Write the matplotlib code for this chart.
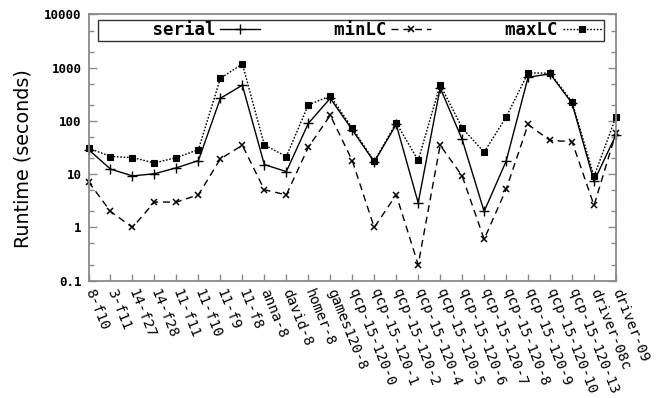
import matplotlib
matplotlib.use('Agg')
import matplotlib.pyplot as plt
from matplotlib.ticker import LogLocator, NullFormatter

# benchmark instances
instances = ['8-f10', '3-f11', '14-f27', '14-f28', '11-f11', '11-f10', '11-f9', '11-f8',
             'anna-8', 'david-8', 'homer-8', 'games120-8',
             'qcp-15-120-0', 'qcp-15-120-1', 'qcp-15-120-2', 'qcp-15-120-4',
             'qcp-15-120-5', 'qcp-15-120-6', 'qcp-15-120-7', 'qcp-15-120-8',
             'qcp-15-120-9', 'qcp-15-120-10', 'qcp-15-120-13', 'driver-08c', 'driver-09']

# runtimes in seconds
serial = [29, 12.5, 9.3, 10.2, 13.2, 18, 267, 470, 15.2, 11.2, 90, 267,
          68, 17, 86, 2.9, 420, 45, 2.0, 17.5, 660, 770, 215, 7.4, 55]
minLC = [7.2, 2.0, 1.0, 3.0, 3.0, 4.1, 19.4, 35, 5.1, 4.1, 32, 128,
         18, 1.0, 4.1, 0.2, 35, 9.3, 0.6, 5.2, 86, 43, 41, 2.6, 60]
maxLC = [31, 21.5, 20.5, 16.3, 20.5, 29, 630, 1180, 35.5, 21.5, 200, 295,
         74, 17.5, 92, 18.2, 480, 74, 26, 118, 800, 790, 230, 9.1, 120]

plt.rcParams['font.family'] = 'DejaVu Sans'

fig = plt.figure(figsize=(6.57, 3.98), dpi=100)
ax = fig.add_axes([88.5 / 657, 1 - 280.7 / 398, (616 - 88.5) / 657, (280.7 - 14.5) / 398])

x = list(range(len(instances)))
ax.plot(x, serial, color='black', lw=1.0, ls='-', marker='+', ms=6.5, mew=1.0,
        clip_on=False, label='     serial')
ax.plot(x, minLC, color='black', lw=1.0, ls=(0, (5, 3.5)), marker='x', ms=4.5, mew=1.1,
        clip_on=False, label='      minLC')
ax.plot(x, maxLC, color='black', lw=1.0, ls=(0, (1.2, 1.2)), marker='s', ms=3.8, mew=0.8,
        mfc='black', clip_on=False, label='      maxLC')

ax.set_yscale('log')
ax.set_ylim(0.1, 10000)
ax.set_xlim(0, len(instances) - 1)

# gnuplot-like border and ticks
for side in ['left', 'right', 'bottom', 'top']:
    ax.spines[side].set_color('#8a8a8a')
    ax.spines[side].set_linewidth(1.3)

ax.yaxis.set_major_locator(LogLocator(base=10, numticks=10))
ax.yaxis.set_minor_locator(LogLocator(base=10, subs=(2, 5), numticks=10))
ax.yaxis.set_minor_formatter(NullFormatter())
ax.set_yticks([0.1, 1, 10, 100, 1000, 10000])
ax.set_yticklabels(['0.1', '1', '10', '100', '1000', '10000'],
                   family='DejaVu Sans Mono', fontweight='bold', fontsize=9)
ax.tick_params(axis='y', which='major', direction='in', length=6, width=1.0,
               color='#8a8a8a', left=True, right=True, pad=5)
ax.tick_params(axis='y', which='minor', direction='in', length=3.5, width=1.0,
               color='#8a8a8a', left=True, right=True)

ax.set_xticks(x)
ax.set_xticklabels(instances, family='DejaVu Sans Mono', fontsize=10.3,
                   rotation=-68, ha='left', va='center', rotation_mode='anchor')
ax.tick_params(axis='x', direction='in', length=5, width=1.0, color='#8a8a8a',
               top=False, pad=6)

ax.set_ylabel('Runtime (seconds)', fontsize=13.8)
ax.yaxis.set_label_coords(-0.107, 0.457)

leg = ax.legend(loc='upper left', bbox_to_anchor=(98.3 / 657, 1 - 20 / 398),
                bbox_transform=fig.transFigure, ncol=3, markerfirst=False,
                prop={'family': 'DejaVu Sans Mono', 'weight': 'bold', 'size': 12.5},
                frameon=True, fancybox=False, borderpad=0.08, borderaxespad=0,
                handlelength=2.3, handletextpad=0.3, columnspacing=0.6,
                labelspacing=0)
leg.get_frame().set_edgecolor('black')
leg.get_frame().set_linewidth(1.0)

fig.savefig('out.png', dpi=100)
